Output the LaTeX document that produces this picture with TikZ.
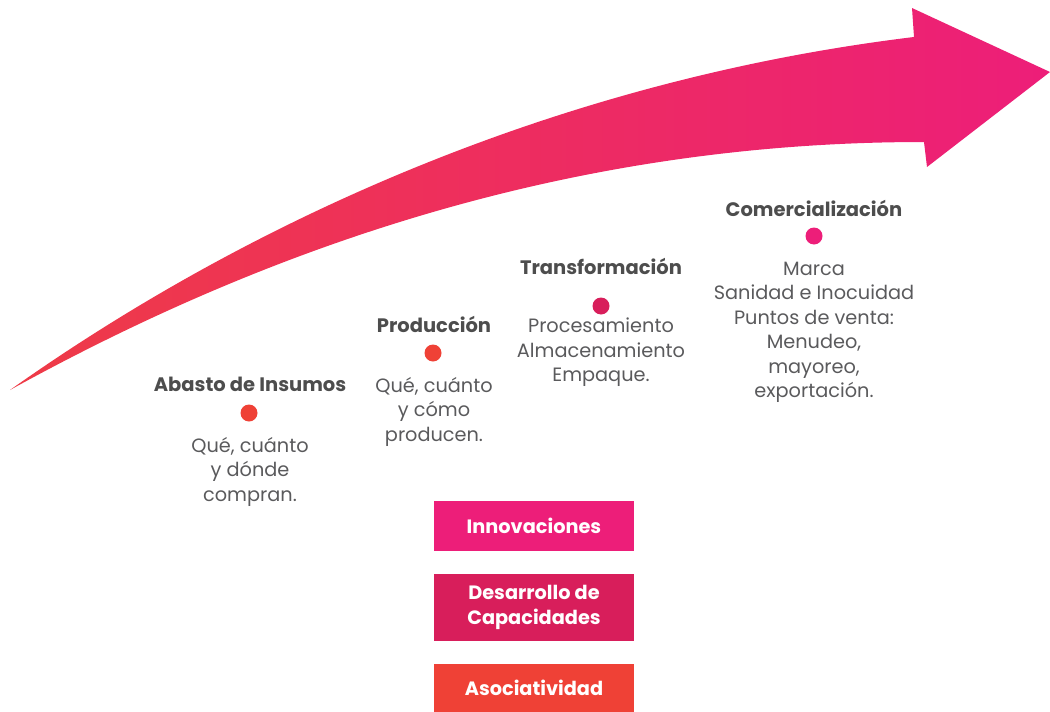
\documentclass[tikz,border=0pt]{standalone}
\usepackage{fontspec}
\setmainfont{Poppins}
\definecolor{rojo}{HTML}{EF4136}
\definecolor{rosa}{HTML}{ED1E79}
\definecolor{guinda}{HTML}{D81E5B}
\definecolor{flecharoja}{HTML}{EE3B47}
\definecolor{gris}{HTML}{4D4D4D}
\definecolor{grisclaro}{HTML}{5A5A5C}
\tikzset{
  titulo/.style={font=\bfseries\fontsize{19.5}{22}\selectfont, text=gris},
  texto/.style={font=\fontsize{19.3}{24.4}\selectfont, text=grisclaro, align=center, anchor=north, inner sep=0pt},
  punto/.style={circle, inner sep=0pt, minimum size=17pt},
  caja/.style={minimum width=200pt, text=white, font=\bfseries\fontsize{19.3}{24.5}\selectfont, align=center}
}
\begin{document}
\begin{tikzpicture}[x=1pt,y=-1pt]
\useasboundingbox (0,0) rectangle (1050,712);
\shade[left color=flecharoja, right color=rosa] (10,390) .. controls (250,220) and (560,80) .. (914,37)
  -- (912,8) -- (1050,72) -- (927,167) -- (924,142) .. controls (600,142) and (300,230) .. (10,390) -- cycle;

\node[titulo] (abasto) at (250,384) {Abasto de Insumos};
\node[punto, fill=rojo] (pabasto) at (249,413) {};
\node[texto] (tabasto) at (250,437) {Qué, cuánto\\y dónde\\compran.};

\node[titulo] (produccion) at (434,324) {Producción};
\node[punto, fill=rojo] (pproduccion) at (433,353) {};
\node[texto] (tproduccion) at (434,377) {Qué, cuánto\\y cómo\\producen.};

\node[titulo] (transformacion) at (601,266) {Transformación};
\node[punto, fill=guinda] (ptransformacion) at (601,306) {};
\node[texto] (ttransformacion) at (601,318) {Procesamiento\\Almacenamiento\\Empaque.};

\node[titulo] (comercializacion) at (814,208) {Comercialización};
\node[punto, fill=rosa] (pcomercializacion) at (814,236) {};
\node[texto] (tcomercializacion) at (814,262) {Marca\\Sanidad e Inocuidad\\Puntos de venta:\\Menudeo,\\mayoreo,\\exportación.};

\node[caja, fill=rosa, minimum height=50pt] (innovaciones) at (534,526) {Innovaciones};
\node[caja, fill=guinda, minimum height=67pt] (desarrollo) at (534,607.5) {Desarrollo de\\Capacidades};
\node[caja, fill=rojo, minimum height=48pt] (asociatividad) at (534,688) {Asociatividad};
\end{tikzpicture}
\end{document}
